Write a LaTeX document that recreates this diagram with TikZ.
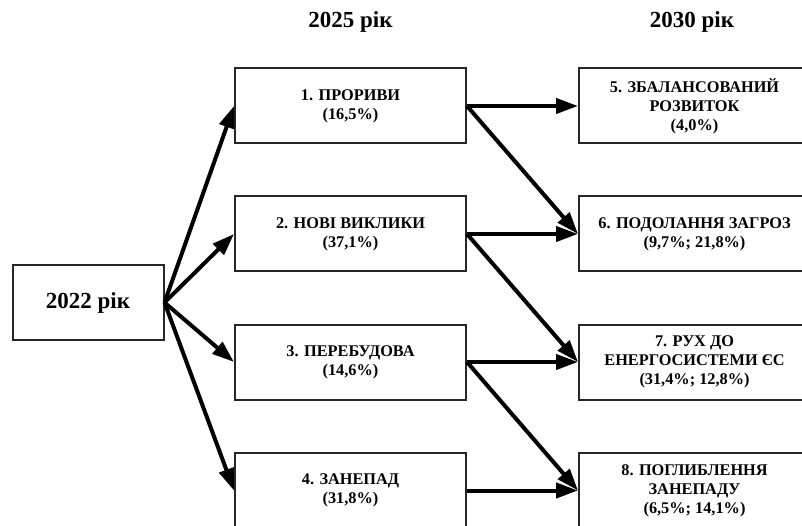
\documentclass[tikz,border=0pt]{standalone}
\usepackage{fontspec}
\setmainfont{Liberation Serif}
\usetikzlibrary{arrows.meta}
\begin{document}
\begin{tikzpicture}[x=1pt,y=-1pt,
  box/.style={draw=black!85, line width=2pt, rectangle, minimum width=231pt, minimum height=75pt,
    align=center, inner sep=0pt, font=\fontsize{16.3}{19}\selectfont\bfseries},
  big/.style={font=\fontsize{23}{26}\selectfont\bfseries},
  arr/.style={line width=4pt, draw=black, -{Triangle[length=22pt,width=15pt]}}]
\useasboundingbox (0,0) rectangle (802,526);
\clip (0,0) rectangle (802,526);
\node[big] (h1) at (350.5,22) {2025 рік};
\node[big] (h2) at (692,22) {2030 рік};
\node[box, big, minimum width=151pt] (s) at (88,302.5) {2022 рік};
\node[box] (b1) at (350.5,106) {1. ПРОРИВИ\\(16,5\%)};
\node[box] (b2) at (350.5,234) {2. НОВІ ВИКЛИКИ\\(37,1\%)};
\node[box] (b3) at (350.5,362) {3. ПЕРЕБУДОВА\\(14,6\%)};
\node[box] (b4) at (350.5,490.5) {4. ЗАНЕПАД\\(31,8\%)};
\node[box] (b5) at (694.5,106) {5. ЗБАЛАНСОВАНИЙ\\РОЗВИТОК\\(4,0\%)};
\node[box] (b6) at (694.5,234) {6. ПОДОЛАННЯ ЗАГРОЗ\\(9,7\%; 21,8\%)};
\node[box] (b7) at (694.5,362) {7. РУХ ДО\\ЕНЕРГОСИСТЕМИ ЄС\\(31,4\%; 12,8\%)};
\node[box] (b8) at (694.5,490.5) {8. ПОГЛИБЛЕННЯ\\ЗАНЕПАДУ\\(6,5\%; 14,1\%)};
\draw[arr] (s.east) -- (b1.west);
\draw[arr] (s.east) -- (b2.west);
\draw[arr] (s.east) -- (b3.west);
\draw[arr] (s.east) -- (b4.west);
\draw[arr] (b1.east) -- (b5.west);
\draw[arr] (b1.east) -- (b6.west);
\draw[arr] (b2.east) -- (b6.west);
\draw[arr] (b2.east) -- (b7.west);
\draw[arr] (b3.east) -- (b7.west);
\draw[arr] (b3.east) -- (b8.west);
\draw[arr] (b4.east) -- (b8.west);
\end{tikzpicture}
\end{document}
